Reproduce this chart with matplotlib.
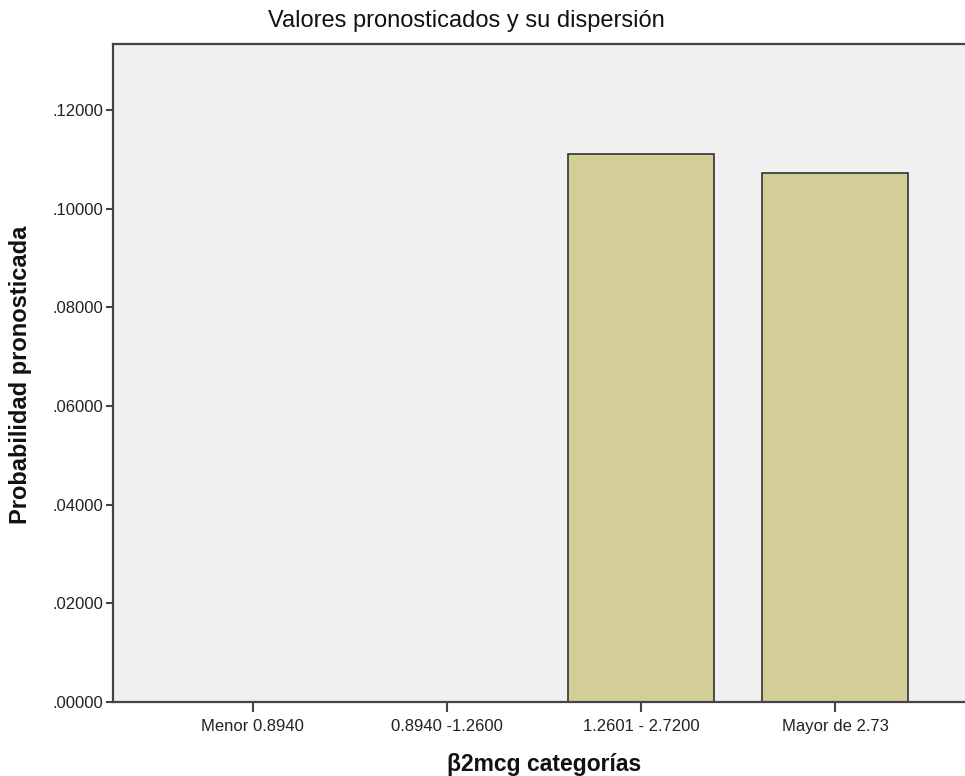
import matplotlib.pyplot as plt
from matplotlib.ticker import FuncFormatter

plt.rcParams['font.family'] = ['Liberation Sans', 'DejaVu Sans']

categorias = ['Menor 0.8940', '0.8940 -1.2600', '1.2601 - 2.7200', 'Mayor de 2.73']
probabilidad = [0.0, 0.0, 0.1112, 0.1073]
y_ticks = [0.0, 0.02, 0.04, 0.06, 0.08, 0.10, 0.12]

fig = plt.figure(figsize=(9.65, 7.76), dpi=100)
ax = fig.add_axes([113 / 965, 74 / 776, 852 / 965, 658 / 776])
ax.set_facecolor('#f0f0f0')

x = range(len(categorias))
ax.bar(x, probabilidad, width=0.75, color='#d3ce97', edgecolor='#333333', linewidth=1.2, zorder=2)

ax.set_xlim(-0.72, 3.67)
ax.set_ylim(0, 0.1334)
ax.set_xticks(list(x))
ax.set_xticklabels(categorias, fontsize=12, color='#222222')
ax.set_yticks(y_ticks)
ax.yaxis.set_major_formatter(FuncFormatter(lambda v, p: f'{v:.5f}'.lstrip('0')))
ax.tick_params(axis='y', labelsize=12, length=5, width=1.5, color='#444444', labelcolor='#222222', pad=2)
ax.tick_params(axis='x', length=7, width=1.5, color='#444444', pad=5)

for side in ['left', 'bottom', 'top']:
    ax.spines[side].set_color('#444444')
    ax.spines[side].set_linewidth(1.6)
    ax.spines[side].set_zorder(3)
ax.spines['right'].set_visible(False)

fig.text(466 / 965, 1 - 21 / 776, 'Valores pronosticados y su dispersión',
         ha='center', va='center', fontsize=17, color='#111111')
fig.text(544 / 965, 1 - 764 / 776, 'β2mcg categorías',
         ha='center', va='center', fontsize=16.5, fontweight='bold', color='#111111')
fig.text(21 / 965, 1 - 375 / 776, 'Probabilidad pronosticada', rotation=90,
         ha='center', va='center', fontsize=17, fontweight='bold', color='#111111')

plt.savefig('out.png', dpi=100)
